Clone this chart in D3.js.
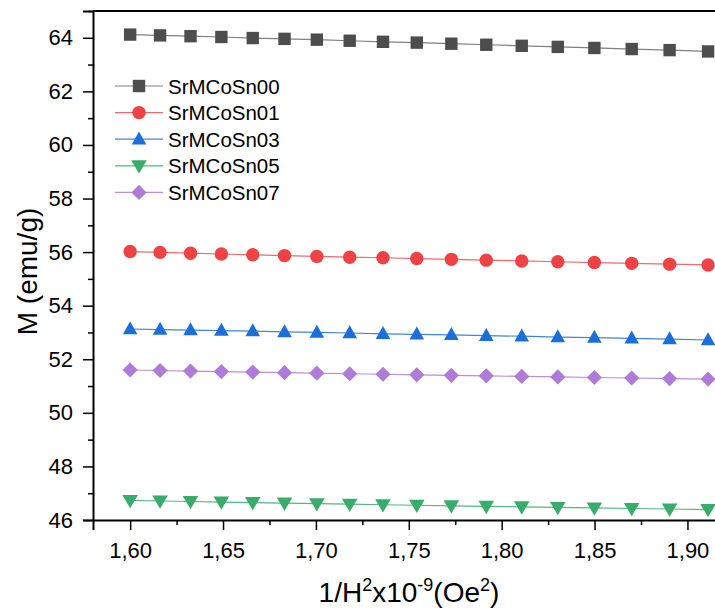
<!DOCTYPE html>
<html>
<head>
<meta charset="utf-8">
<script src="https://cdn.jsdelivr.net/npm/d3@7"></script>
<style>
    body { margin: 0; background: #fff; }
    svg { display: block; font-family: "Liberation Sans", Arial, sans-serif; }
    .axis text { fill: #000; }
</style>
</head>
<body>
<div id="chart"></div>
<script>
// 1/H^2 x 10^-9 values (Oe^-2)
const xValues = [1.6000, 1.6161, 1.6325, 1.6491, 1.6660, 1.6831, 1.7005, 1.7182, 1.7361,
    1.7543, 1.7729, 1.7917, 1.8108, 1.8302, 1.8499, 1.8700, 1.8904, 1.9111];

const sampleNames = ["SrMCoSn00", "SrMCoSn01", "SrMCoSn03", "SrMCoSn05", "SrMCoSn07"];

const m00 = [64.12, 64.09, 64.06, 64.03, 63.99, 63.96, 63.93, 63.89, 63.85,
    63.82, 63.78, 63.74, 63.70, 63.66, 63.62, 63.58, 63.54, 63.49];
const m01 = [56.02, 55.99, 55.96, 55.93, 55.90, 55.87, 55.84, 55.81, 55.79,
    55.76, 55.73, 55.70, 55.67, 55.64, 55.61, 55.58, 55.55, 55.52];
const m03 = [53.13, 53.11, 53.09, 53.07, 53.05, 53.02, 53.00, 52.98, 52.95,
    52.93, 52.91, 52.88, 52.86, 52.83, 52.81, 52.78, 52.75, 52.72];
const m05 = [46.73, 46.71, 46.69, 46.67, 46.65, 46.63, 46.61, 46.59, 46.57,
    46.55, 46.53, 46.51, 46.49, 46.47, 46.45, 46.43, 46.41, 46.39];
const m07 = [51.60, 51.58, 51.56, 51.54, 51.52, 51.50, 51.48, 51.46, 51.44,
    51.42, 51.40, 51.38, 51.36, 51.34, 51.32, 51.30, 51.28, 51.26];

const xMajorTicks = [1.60, 1.65, 1.70, 1.75, 1.80, 1.85, 1.90];
const xMinorTicks = [1.625, 1.675, 1.725, 1.775, 1.825, 1.875];
const yMajorTicks = [46, 48, 50, 52, 54, 56, 58, 60, 62, 64];
const yMinorTicks = [47, 49, 51, 53, 55, 57, 59, 61, 63, 65];

const width = 715;
const height = 611;
const margin = { left: 93, top: 11, right: -10, bottom: 91 };

const series = [
    { name: sampleNames[0], values: m00, fill: "#4d4d4d", stroke: "#808080", shape: "square" },
    { name: sampleNames[1], values: m01, fill: "#f04245", stroke: "#f06a6c", shape: "circle" },
    { name: sampleNames[2], values: m03, fill: "#1c6fdb", stroke: "#3f84e0", shape: "triangle" },
    { name: sampleNames[3], values: m05, fill: "#38ad6b", stroke: "#52b87e", shape: "triangleDown" },
    { name: sampleNames[4], values: m07, fill: "#b07ad9", stroke: "#bb8ddf", shape: "diamond" }
];

// marker outlines, centred on 0,0
const shapes = {
    square: "M-6.2,-6.2H6.2V6.2H-6.2Z",
    circle: "M6.7,0A6.7,6.7 0 1,1 -6.7,0A6.7,6.7 0 1,1 6.7,0Z",
    triangle: "M0,-7.8L7.3,5.2L-7.3,5.2Z",
    triangleDown: "M0,7.8L7.8,-5.5L-7.8,-5.5Z",
    diamond: "M0,-7.6L7.6,0L0,7.6L-7.6,0Z"
};

const commaFormat = d3.formatLocale({ decimal: ",", thousands: ".", grouping: [3], currency: ["", ""] }).format(".2f");

const svg = d3.select("#chart")
    .append("svg")
    .attr("width", width)
    .attr("height", height)
    .attr("viewBox", `0 0 ${width} ${height}`);

const xScale = d3.scaleLinear()
    .domain([1.58, 1.92])
    .range([margin.left, 724.6]);

const yScale = d3.scaleLinear()
    .domain([46, 65])
    .range([height - margin.bottom, margin.top]);

// axes
svg.append("g")
    .attr("class", "x-axis axis")
    .attr("transform", `translate(0, ${yScale(46)})`)
    .call(d3.axisBottom(xScale).tickValues(xMajorTicks).tickSize(10).tickPadding(12).tickFormat(commaFormat));

svg.append("g")
    .attr("class", "x-axis-minor axis")
    .attr("transform", `translate(0, ${yScale(46)})`)
    .call(d3.axisBottom(xScale).tickValues(xMinorTicks).tickSize(5).tickFormat(""))
    .call(g => g.select(".domain").remove());

svg.append("g")
    .attr("class", "y-axis axis")
    .attr("transform", `translate(${xScale(1.58)}, 0)`)
    .call(d3.axisLeft(yScale).tickValues(yMajorTicks).tickSize(10).tickPadding(10).tickFormat(d3.format("d")));

svg.append("g")
    .attr("class", "y-axis-minor axis")
    .attr("transform", `translate(${xScale(1.58)}, 0)`)
    .call(d3.axisLeft(yScale).tickValues(yMinorTicks).tickSize(5).tickFormat(""))
    .call(g => g.select(".domain").remove());

svg.selectAll(".axis .domain")
    .attr("stroke", "#000")
    .attr("stroke-width", 2);
svg.selectAll(".axis .tick line")
    .attr("stroke", "#000")
    .attr("stroke-width", 1.5);
svg.selectAll(".axis text")
    .style("font-size", "22px");

// top and right frame
svg.append("line")
    .attr("x1", xScale(1.58))
    .attr("x2", xScale(1.92))
    .attr("y1", yScale(65))
    .attr("y2", yScale(65))
    .attr("stroke", "#000")
    .attr("stroke-width", 2);
svg.append("line")
    .attr("x1", xScale(1.92))
    .attr("x2", xScale(1.92))
    .attr("y1", yScale(65))
    .attr("y2", yScale(46))
    .attr("stroke", "#000")
    .attr("stroke-width", 2);

// axis titles
const xTitle = svg.append("text")
    .attr("class", "axis-title")
    .attr("text-anchor", "middle")
    .attr("x", 409)
    .attr("y", 602)
    .style("font-size", "28px");
xTitle.append("tspan").text("1/H");
xTitle.append("tspan").attr("dy", -11).style("font-size", "18px").text("2");
xTitle.append("tspan").attr("dy", 11).text("x10");
xTitle.append("tspan").attr("dy", -11).style("font-size", "18px").text("-9");
xTitle.append("tspan").attr("dy", 11).text("(Oe");
xTitle.append("tspan").attr("dy", -11).style("font-size", "18px").text("2");
xTitle.append("tspan").attr("dy", 11).text(")");

svg.append("text")
    .attr("class", "axis-title")
    .attr("text-anchor", "middle")
    .attr("transform", `translate(37, ${(yScale(46) + yScale(65)) / 2 + 6}) rotate(-90)`)
    .style("font-size", "28px")
    .text("M (emu/g)");

// series
const line = d3.line()
    .x((d, i) => xScale(xValues[i]))
    .y(d => yScale(d));

const gSeries = svg.selectAll(".series")
    .data(series)
    .join("g")
        .attr("class", "series");

gSeries.append("path")
    .attr("fill", "none")
    .attr("stroke", d => d.stroke)
    .attr("stroke-width", 1.2)
    .attr("d", d => line(d.values));

gSeries.selectAll(".marker")
    .data(d => d.values.map((v, i) => ({ x: xValues[i], y: v, s: d })))
    .join("path")
        .attr("class", "marker")
        .attr("transform", d => `translate(${xScale(d.x)}, ${yScale(d.y)})`)
        .attr("d", d => shapes[d.s.shape])
        .attr("fill", d => d.s.fill);

// legend
const legend = svg.append("g")
    .attr("class", "legend")
    .attr("transform", "translate(115, 86)");

const gLegend = legend.selectAll(".legend-item")
    .data(series)
    .join("g")
        .attr("class", "legend-item")
        .attr("transform", (d, i) => `translate(0, ${i * 26.6})`);

gLegend.append("line")
    .attr("x1", 0)
    .attr("x2", 48)
    .attr("stroke", d => d.stroke)
    .attr("stroke-width", 1.2);

gLegend.append("path")
    .attr("transform", "translate(24, 0)")
    .attr("d", d => shapes[d.shape])
    .attr("fill", d => d.fill);

gLegend.append("text")
    .attr("x", 53)
    .attr("y", 7.5)
    .style("font-size", "20.5px")
    .style("fill", "#000")
    .text(d => d.name);
</script>
</body>
</html>
